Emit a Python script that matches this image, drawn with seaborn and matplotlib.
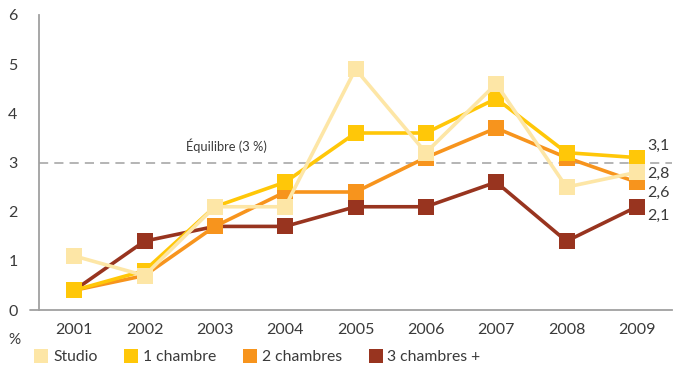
import pandas as pd
import seaborn as sns
import matplotlib.pyplot as plt
from matplotlib.lines import Line2D

years = ["2001", "2002", "2003", "2004", "2005", "2006", "2007", "2008", "2009"]
studio = [1.1, 0.7, 2.1, 2.1, 4.9, 3.2, 4.6, 2.5, 2.8]
une_chambre = [0.4, 0.8, 2.1, 2.6, 3.6, 3.6, 4.3, 3.2, 3.1]
deux_chambres = [0.4, 0.7, 1.7, 2.4, 2.4, 3.1, 3.7, 3.1, 2.6]
trois_chambres = [0.4, 1.4, 1.7, 1.7, 2.1, 2.1, 2.6, 1.4, 2.1]
series_names = ["Studio", "1 chambre", "2 chambres", "3 chambres +"]
end_labels = ["2,8", "3,1", "2,6", "2,1"]
equilibre = 3

colors = ["#FDE6A6", "#FFC708", "#F7941D", "#98341F"]
txt = "#3a3a3a"
grey = "#a0a0a0"

sns.set_style("white")
plt.rcParams['font.family'] = ['Lato', 'DejaVu Sans']

df = pd.DataFrame({"year": years * 4,
                   "value": studio + une_chambre + deux_chambres + trois_chambres,
                   "serie": [s for s in series_names for _ in years]})

fig = plt.figure(figsize=(6.74, 3.68), dpi=100)
ax = fig.add_axes([39 / 674, 58 / 368, 633 / 674, 295 / 368])

# draw back to front: 3 chambres first, studio last
for name, col in reversed(list(zip(series_names, colors))):
    sub = df[df["serie"] == name]
    sns.lineplot(data=sub, x="year", y="value", color=col, marker="s",
                 markersize=11, markeredgewidth=0, linewidth=2.6, ax=ax,
                 legend=False)

ax.axhline(equilibre, color=grey, lw=1.1, ls=(0, (6, 4)), zorder=0)
ax.text(2.16, equilibre + 0.2, "Équilibre (3 %)", fontsize=9.3, color=txt,
        ha="center", va="bottom")

# labels for 2009 values
label_y = [2.76, 3.33, 2.39, 1.92]
for lab, yv in zip(end_labels, label_y):
    ax.text(8.15, yv, lab, fontsize=11.5, color=txt, ha="left", va="center")

cat_w = 633 / 9
ax.set_xlim(-0.5, 8.5)
ax.set_ylim(0, 6)
ax.set_xlabel("")
ax.set_ylabel("")

for s in ["top", "right"]:
    ax.spines[s].set_visible(False)
for s in ["left", "bottom"]:
    ax.spines[s].set_color(grey)
    ax.spines[s].set_linewidth(1.3)

# bottom axis line extends a little past the y axis
ax.plot([-0.5 - 9 / cat_w, -0.5], [0, 0], color=grey, lw=1.3, clip_on=False)

ax.set_yticks(range(0, 7))
ax.tick_params(axis="y", direction="inout", length=15, width=1.1, color=grey,
               labelsize=11.5, labelcolor=txt, pad=8)
ax.set_xticks(range(len(years)))
ax.set_xticklabels(years)
ax.set_xticks([i + 0.5 for i in range(len(years))], minor=True)
ax.tick_params(axis="x", which="major", length=0, labelsize=11.5,
               labelcolor=txt, pad=9)
ax.tick_params(axis="x", which="minor", direction="inout", length=18,
               width=1.1, color=grey)

fig.text(14 / 674, 1 - 340 / 368, "%", fontsize=11, color=txt, ha="center",
         va="center")

handles = [Line2D([], [], marker="s", color=c, markersize=10, lw=0,
                  markeredgewidth=0) for c in colors]
fig.legend(handles, series_names, loc="center left", ncol=4, frameon=False,
           bbox_to_anchor=(21 / 674, 1 - 357 / 368), fontsize=11.3,
           handlelength=0.8, handletextpad=0.35, columnspacing=1.75,
           labelcolor=txt)

fig.savefig("out.png", dpi=100)
